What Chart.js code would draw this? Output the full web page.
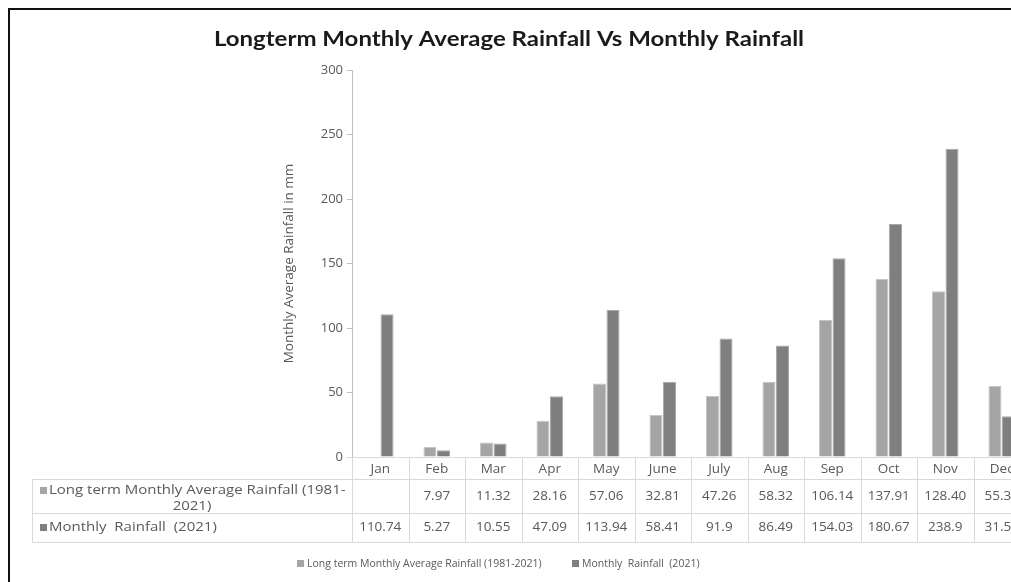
<!DOCTYPE html>
<html>
<head>
<meta charset="utf-8">
<script src="https://cdn.jsdelivr.net/npm/chart.js@4"></script>
<style>
  html, body { margin: 0; padding: 0; background: #fff; overflow: hidden; }
  #wrap { position: relative; width: 1040px; height: 582px; }
  #frame { position: absolute; left: 8px; top: 8px; width: 1040px; height: 600px;
           border-left: 2px solid #111; border-top: 2px solid #111; }
</style>
</head>
<body>
<div id="wrap">
  <canvas id="myChart" width="1040" height="582"></canvas>
  <div id="frame"></div>
</div>
<script>
let months = ['Jan', 'Feb', 'Mar', 'Apr', 'May', 'June', 'July', 'Aug', 'Sep', 'Oct', 'Nov', 'Dec'];
let longTermAvg = [null, 7.97, 11.32, 28.16, 57.06, 32.81, 47.26, 58.32, 106.14, 137.91, 128.40, 55.30];
let monthly2021 = [110.74, 5.27, 10.55, 47.09, 113.94, 58.41, 91.9, 86.49, 154.03, 180.67, 238.9, 31.54];
let seriesLabels = ['Long term Monthly Average Rainfall (1981-2021)', 'Monthly  Rainfall  (2021)'];
let colorHex = ['#a5a5a5', '#7f7f7f'];

let textGray = '#595959';
let lineGray = '#d9d9d9';

Chart.defaults.font.family = "'Open Sans', sans-serif";
Chart.defaults.color = textGray;

// text with a horizontal stretch, the source image is a bit wide
function drawText(ctx, text, x, y, align, sx) {
  ctx.save();
  ctx.translate(x, y);
  ctx.scale(sx, 1);
  ctx.textAlign = align;
  ctx.fillText(text, 0, 0);
  ctx.restore();
}

// title, data table under the plot and legend, drawn Excel style
let extras = {
  id: 'extras',
  afterDraw(chart) {
    let ctx = chart.ctx;
    let x = chart.scales.x;
    let yTop = chart.chartArea.bottom;
    let colW = (x.right - x.left) / months.length;
    let tableLeft = 32;
    let rowY = [yTop, 479, 513, 542];

    ctx.save();
    ctx.textBaseline = 'middle';
    // title
    ctx.fillStyle = '#1a1a1a';
    ctx.font = "bold 20px Lato, sans-serif";
    drawText(ctx, 'Longterm Monthly Average Rainfall Vs Monthly Rainfall', 509, 40, 'center', 1.2);

    // table grid
    ctx.strokeStyle = lineGray;
    ctx.lineWidth = 1;
    ctx.beginPath();
    ctx.moveTo(x.left - 6, rowY[0] + 0.5);
    ctx.lineTo(x.right, rowY[0] + 0.5);
    for (let r = 1; r < rowY.length; r++) {
      ctx.moveTo(tableLeft, rowY[r] + 0.5);
      ctx.lineTo(x.right, rowY[r] + 0.5);
    }
    ctx.moveTo(tableLeft + 0.5, rowY[1]);
    ctx.lineTo(tableLeft + 0.5, rowY[3]);
    for (let i = 0; i <= months.length; i++) {
      let cx = Math.round(x.left + colW * i) + 0.5;
      ctx.moveTo(cx, rowY[0]);
      ctx.lineTo(cx, rowY[3]);
    }
    ctx.stroke();

    // cells
    ctx.fillStyle = textGray;
    ctx.font = "12.5px 'Open Sans', sans-serif";
    months.forEach((m, i) => {
      let cx = x.getPixelForValue(i);
      drawText(ctx, m, cx, (rowY[0] + rowY[1]) / 2 + 1, 'center', 1.08);
      if (longTermAvg[i] !== null) {
        drawText(ctx, longTermAvg[i].toFixed(2), cx, (rowY[1] + rowY[2]) / 2, 'center', 1.08);
      }
      drawText(ctx, String(monthly2021[i]), cx, (rowY[2] + rowY[3]) / 2, 'center', 1.08);
    });

    // row headers
    ctx.font = "12px 'Open Sans', sans-serif";
    let parts = seriesLabels[0].split('1981-');
    ctx.fillStyle = colorHex[0];
    ctx.fillRect(40, 487, 7, 7);
    ctx.fillStyle = textGray;
    drawText(ctx, parts[0] + '1981-', 49, 491, 'left', 1.25);
    drawText(ctx, parts[1], 192, 507, 'center', 1.25);
    ctx.fillStyle = colorHex[1];
    ctx.fillRect(40, 524, 7, 7);
    ctx.fillStyle = textGray;
    drawText(ctx, seriesLabels[1], 49, 528, 'left', 1.25);

    // legend
    ctx.font = "10.5px 'Open Sans', sans-serif";
    let legendX = [297, 572];
    seriesLabels.forEach((lab, k) => {
      ctx.fillStyle = colorHex[k];
      ctx.fillRect(legendX[k], 560, 7, 7);
      ctx.fillStyle = textGray;
      drawText(ctx, lab, legendX[k] + 10, 564, 'left', 1);
    });
    ctx.restore();
  }
};

let ctx = document.getElementById('myChart').getContext('2d');
let myChart = new Chart(ctx, {
  type: 'bar',
  data: {
    labels: months,
    datasets: [{
      label: seriesLabels[0],
      data: longTermAvg,
      backgroundColor: colorHex[0],
      borderColor: '#c4c4c4',
      borderWidth: 1
    }, {
      label: seriesLabels[1],
      data: monthly2021,
      backgroundColor: colorHex[1],
      borderColor: '#a8a8a8',
      borderWidth: 1
    }]
  },
  options: {
    responsive: false,
    animation: false,
    layout: {
      padding: { left: 275, right: 10, top: 70, bottom: 125 }
    },
    datasets: {
      bar: { categoryPercentage: 0.48, barPercentage: 0.96 }
    },
    scales: {
      x: {
        ticks: { display: false },
        grid: { display: false },
        border: { display: false },
        afterFit: (scale) => { scale.height = 0; }
      },
      y: {
        min: 0,
        max: 300,
        ticks: { stepSize: 50, padding: 4, font: { size: 13 }, color: textGray },
        grid: { drawOnChartArea: false, tickLength: 5, color: '#bfbfbf' },
        border: { color: '#bfbfbf' },
        title: {
          display: true,
          text: 'Monthly Average Rainfall in mm',
          color: textGray,
          font: { size: 13.5 },
          padding: { top: 6, bottom: 0 }
        },
        afterFit: (scale) => { scale.width = 77; }
      }
    },
    plugins: {
      legend: { display: false },
      tooltip: { enabled: false }
    }
  },
  plugins: [extras]
});
</script>
</body>
</html>
